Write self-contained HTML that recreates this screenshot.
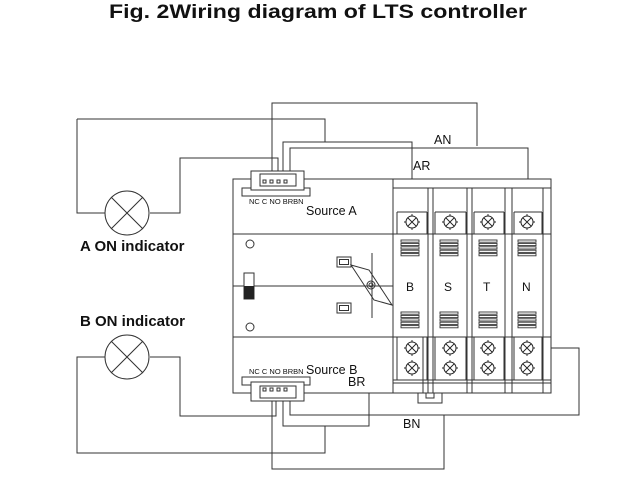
<!DOCTYPE html>
<html><head><meta charset="utf-8"><style>
html,body{margin:0;padding:0;background:#fff;}
svg{display:block;}
text{font-family:"Liberation Sans",Arial,sans-serif;fill:#111;}
</style></head><body>
<svg width="640" height="480" viewBox="0 0 640 480" xmlns="http://www.w3.org/2000/svg">
<defs>
<g id="scr"><circle r="6" fill="#fff" stroke="#222" stroke-width="1"/><path d="M-4,-4L4,4M-4,4L4,-4M0,-8V-6M0,6V8M-8,0H-6M6,0H8" stroke="#222" stroke-width="0.9"/></g>
<g id="vent" fill="none" stroke="#333" stroke-width="0.9"><rect x="0" y="0" width="18" height="2.2"/><rect x="0" y="3.4" width="18" height="2.2"/><rect x="0" y="6.8" width="18" height="2.2"/><rect x="0" y="10.2" width="18" height="2.2"/><rect x="0" y="13.6" width="18" height="2.2"/></g>
</defs>
<text x="109" y="18" font-size="19" font-weight="bold" textLength="418" lengthAdjust="spacingAndGlyphs">Fig. 2Wiring diagram of LTS controller</text>
<g fill="none" stroke="#333" stroke-width="1">
<!-- wires top -->
<polyline points="272,171 272,103 477,103 477,146"/>
<polyline points="77,119 325,119 325,142"/>
<polyline points="283,171 283,142 412,142 412,222"/>
<polyline points="290,171 290,148 528,148 528,222"/>
<polyline points="278,171 278,158 180,158 180,213 150,213"/>
<polyline points="105,213 77,213 77,119"/>
<circle cx="127" cy="213" r="22"/>
<path d="M111,197L143,229M111,229L143,197"/>
<!-- lamp B -->
<circle cx="127" cy="357" r="22"/>
<path d="M111,341L143,373M111,373L143,341"/>
<polyline points="150,357 180,357 180,416 276,416 276,400"/>
<polyline points="105,357 77,357 77,453 325,453 325,426"/>
<polyline points="283,400 283,426 369,426 369,348 412,348"/>
<polyline points="290,400 290,415 579,415 579,348 528,348"/>
<polyline points="272,400 272,469 444,469 444,415"/>
<!-- body left -->
<rect x="233" y="179" width="160" height="214" fill="#fff"/>
<line x1="233" y1="234" x2="393" y2="234"/>
<line x1="233" y1="337" x2="393" y2="337"/>
<line x1="233" y1="286" x2="541" y2="286"/>
<!-- top connector -->
<rect x="242" y="188" width="68" height="8" fill="#fff"/>
<rect x="251" y="171" width="53" height="19" fill="#fff"/>
<rect x="260" y="174" width="36" height="12" fill="#fff"/>
<rect x="263" y="180" width="3" height="3"/><rect x="270" y="180" width="3" height="3"/><rect x="277" y="180" width="3" height="3"/><rect x="284" y="180" width="3" height="3"/>
<!-- bottom connector -->
<rect x="242" y="377" width="68" height="8" fill="#fff"/>
<rect x="251" y="382" width="53" height="19" fill="#fff"/>
<rect x="260" y="386" width="36" height="12" fill="#fff"/>
<rect x="263" y="388" width="3" height="3"/><rect x="270" y="388" width="3" height="3"/><rect x="277" y="388" width="3" height="3"/><rect x="284" y="388" width="3" height="3"/>
<!-- middle panel -->
<circle cx="250" cy="244" r="4"/>
<circle cx="250" cy="327" r="4"/>
<rect x="244" y="273" width="10" height="26" fill="#fff"/>
<rect x="337" y="257" width="14" height="10"/><rect x="339.5" y="259.5" width="9" height="5"/>
<rect x="337" y="303" width="14" height="10"/><rect x="339.5" y="305.5" width="9" height="5"/>
<path d="M351,265 L369,270 L392,305 L374,300 Z"/>
<line x1="372" y1="253" x2="372" y2="318"/>
<circle cx="371" cy="285" r="4"/><circle cx="371" cy="285" r="2"/>
<!-- poles -->
<rect x="393" y="179" width="158" height="214" fill="#fff"/>
<line x1="393" y1="188" x2="551" y2="188"/>
<path d="M428,188V393M433,188V393M467,188V393M472,188V393M505,188V393M512,188V393M543,188V393"/>
<path d="M397,212H427M435,212H466M474,212H504M514,212H542"/>
<path d="M397,212V234M427,212V234M435,212V234M466,212V234M474,212V234M504,212V234M514,212V234M542,212V234"/>
<line x1="393" y1="234" x2="551" y2="234"/>
<line x1="393" y1="337" x2="551" y2="337"/>
<path d="M397,337V380M427,337V380M435,337V380M466,337V380M474,337V380M504,337V380M514,337V380M542,337V380"/>
<line x1="393" y1="380" x2="551" y2="380"/>
<line x1="393" y1="383" x2="551" y2="383"/>
<path d="M423,337V393M423,380"/>
<path d="M418,393V403H442V393M426,393V398H434V393"/>
</g>
<rect x="244" y="286" width="10" height="13" fill="#222"/>
<use href="#scr" x="412" y="222"/><use href="#scr" x="450" y="222"/><use href="#scr" x="488" y="222"/><use href="#scr" x="527" y="222"/>
<use href="#scr" x="412" y="348"/><use href="#scr" x="450" y="348"/><use href="#scr" x="488" y="348"/><use href="#scr" x="527" y="348"/>
<use href="#scr" x="412" y="368"/><use href="#scr" x="450" y="368"/><use href="#scr" x="488" y="368"/><use href="#scr" x="527" y="368"/>
<use href="#vent" x="401" y="240"/><use href="#vent" x="440" y="240"/><use href="#vent" x="479" y="240"/><use href="#vent" x="518" y="240"/>
<use href="#vent" x="401" y="312"/><use href="#vent" x="440" y="312"/><use href="#vent" x="479" y="312"/><use href="#vent" x="518" y="312"/>
<text x="406" y="291" font-size="12">B</text>
<text x="444" y="291" font-size="12">S</text>
<text x="483" y="291" font-size="12">T</text>
<text x="522" y="291" font-size="12">N</text>
<text x="249" y="204" font-size="7.5">NC C NO BRBN</text>
<text x="306" y="215" font-size="12.5">Source A</text>
<text x="249" y="374" font-size="7.5">NC C NO BRBN</text>
<text x="306" y="374" font-size="12.5">Source B</text>
<text x="348" y="386" font-size="12.5">BR</text>
<text x="403" y="428" font-size="12.5">BN</text>
<text x="434" y="144" font-size="12.5">AN</text>
<text x="413" y="170" font-size="12.5">AR</text>
<text x="80" y="251" font-size="15" font-weight="bold">A ON indicator</text>
<text x="80" y="326" font-size="15" font-weight="bold">B ON indicator</text>
</svg>
</body></html>
